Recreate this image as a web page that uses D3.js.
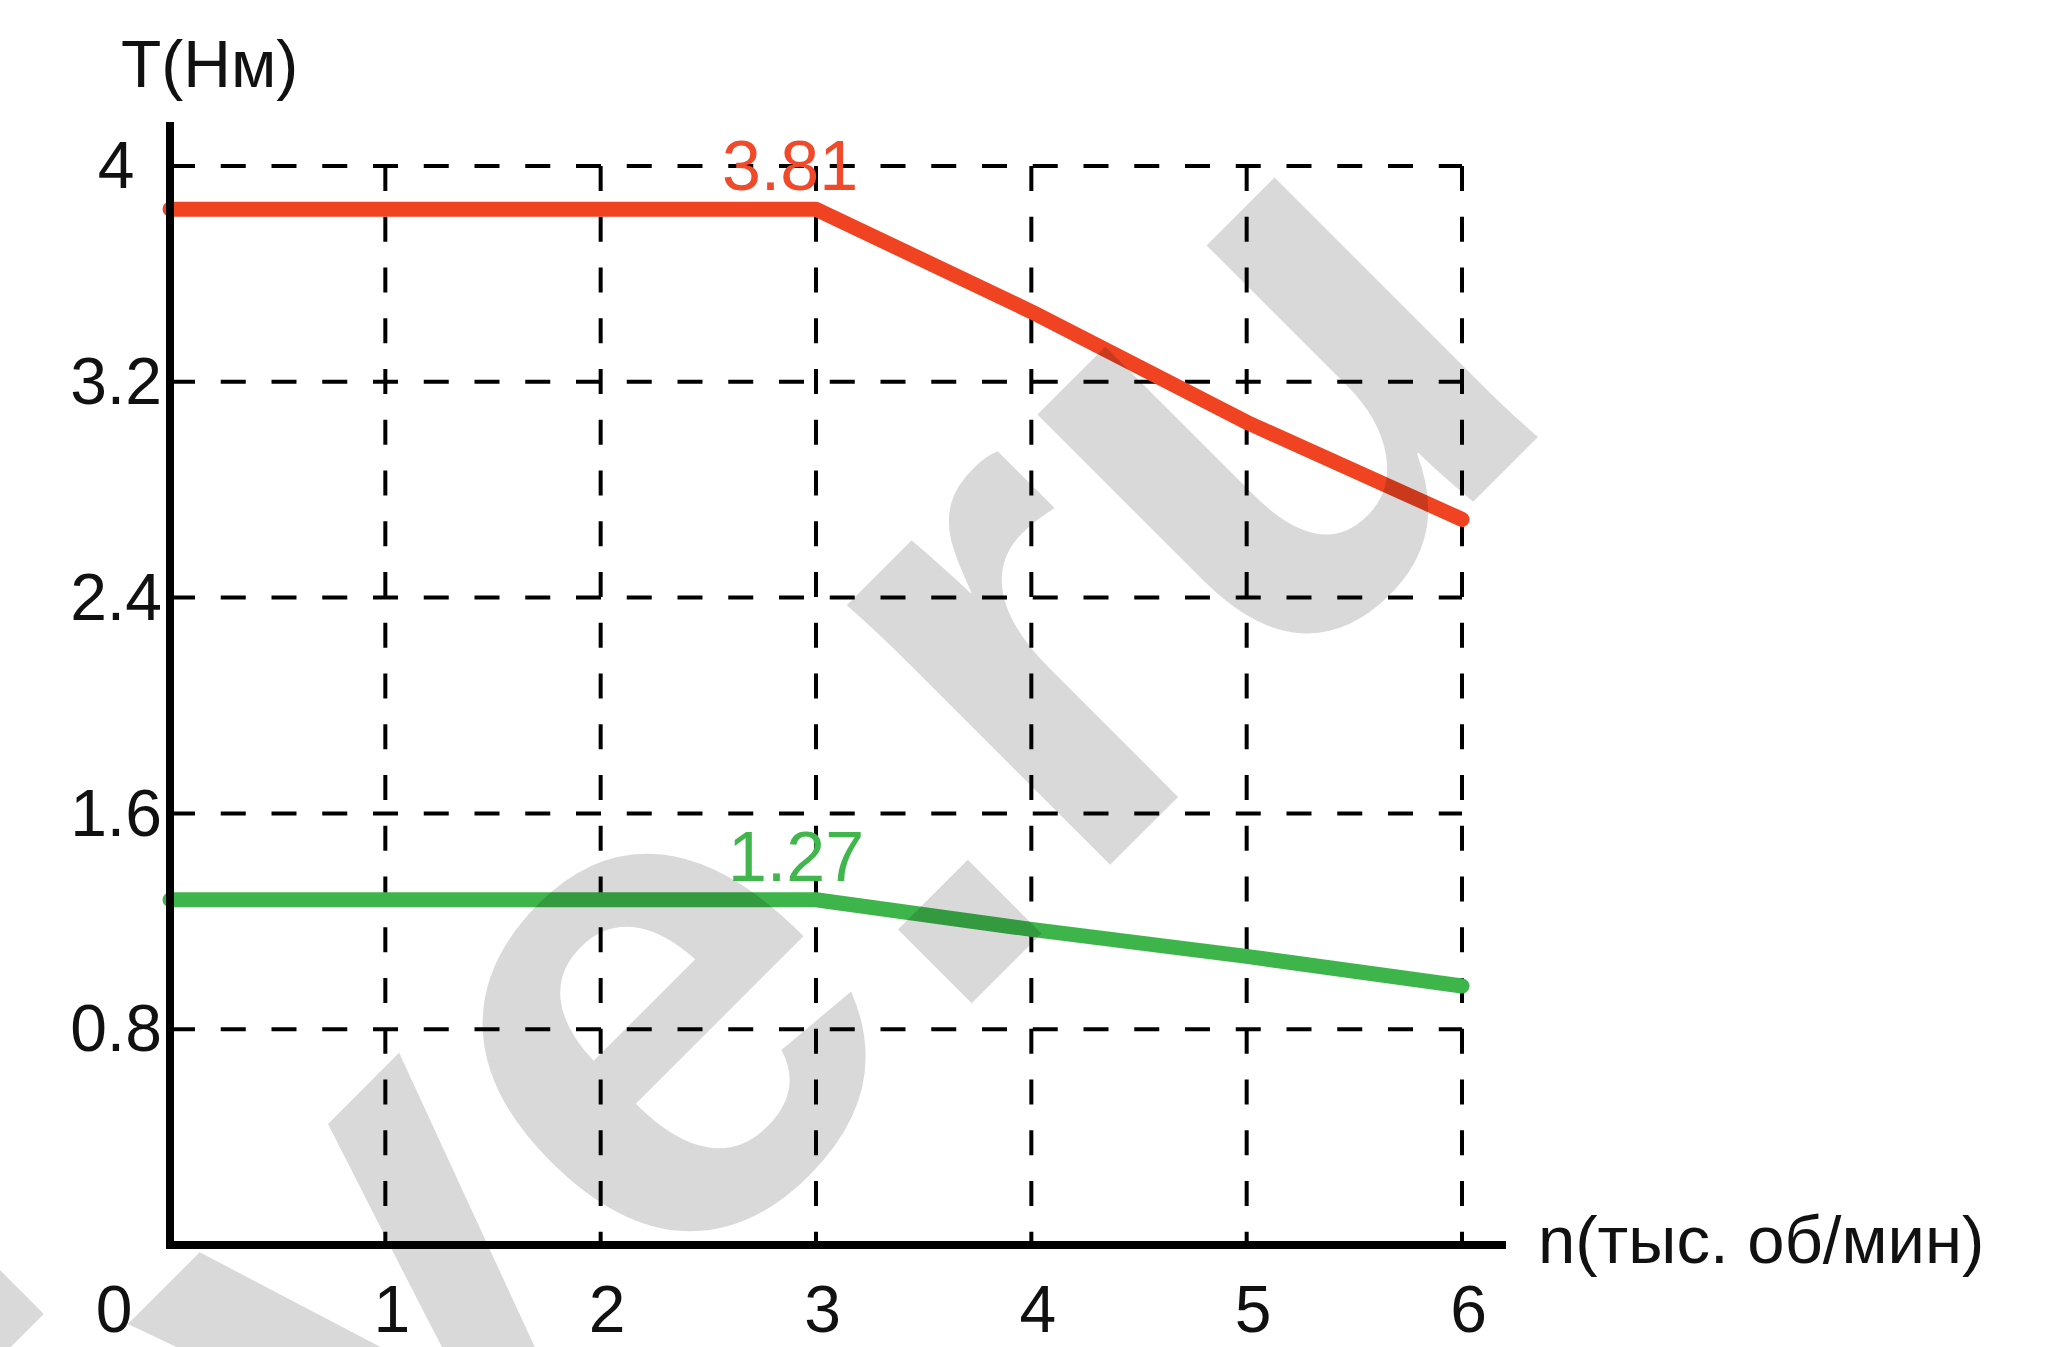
<!DOCTYPE html>
<html>
<head>
<meta charset="utf-8">
<script src="https://cdn.jsdelivr.net/npm/d3@7"></script>
<style>
  html, body { margin: 0; padding: 0; background: #fff; }
  svg { display: block; }
  text { font-family: "Liberation Sans", Arial, sans-serif; }
</style>
</head>
<body>
<script>
// ---- data ----
const nValues = [0, 1, 2, 3, 4, 5, 6];
const torqueRed = [3.84, 3.84, 3.84, 3.84, 3.46, 3.05, 2.69];
const torqueGreen = [1.28, 1.28, 1.28, 1.28, 1.17, 1.07, 0.96];
const yTicks = [0.8, 1.6, 2.4, 3.2, 4];
const yTickLabels = ["0.8", "1.6", "2.4", "3.2", "4"];
const xTicks = [1, 2, 3, 4, 5, 6];
const xTickLabels = ["1", "2", "3", "4", "5", "6"];
const originLabel = "0";
const peakLabels = ["3.81", "1.27"];
const yTitle = "T(Нм)";
const xTitle = "n(тыс. об/мин)";
const watermarkText = "ive.ru";

const W = 2051, H = 1347;
const svg = d3.select("body").append("svg").attr("width", W).attr("height", H);
svg.append("rect").attr("width", W).attr("height", H).attr("fill", "#fff");

const x = d3.scaleLinear().domain([0, 6]).range([170, 1462]);
const y = d3.scaleLinear().domain([0, 4]).range([1245, 166]);

// grid
const grid = svg.append("g").attr("stroke", "#000").attr("stroke-width", 4)
  .attr("stroke-dasharray", "25,25.75").attr("fill", "none");
grid.selectAll("line.h").data(yTicks).join("line").attr("class", "h")
  .attr("x1", x(0)).attr("x2", x(6)).attr("y1", d => y(d)).attr("y2", d => y(d));
grid.selectAll("line.v").data(xTicks).join("line").attr("class", "v")
  .attr("x1", d => x(d)).attr("x2", d => x(d)).attr("y1", y(4)).attr("y2", y(0));

// lines
const line = d3.line().x((d, i) => x(nValues[i])).y(d => y(d));
svg.append("path").datum(torqueRed).attr("d", line).attr("fill", "none")
  .attr("stroke", "#ef4322").attr("stroke-width", 15).attr("stroke-linejoin", "round").attr("stroke-linecap", "round");
svg.append("path").datum(torqueGreen).attr("d", line).attr("fill", "none")
  .attr("stroke", "#3db54a").attr("stroke-width", 15).attr("stroke-linejoin", "round").attr("stroke-linecap", "round");

// peak labels
svg.append("text").attr("x", x(3) - 26).attr("y", y(torqueRed[3]) - 19)
  .attr("text-anchor", "middle").attr("font-size", 70).attr("fill", "#f04a2a").text(peakLabels[0]);
svg.append("text").attr("x", x(3) - 20).attr("y", y(torqueGreen[3]) - 19)
  .attr("text-anchor", "middle").attr("font-size", 70).attr("fill", "#41b64c").text(peakLabels[1]);

// axes lines
svg.append("line").attr("x1", x(0)).attr("x2", x(0)).attr("y1", 122).attr("y2", y(0) + 4)
  .attr("stroke", "#000").attr("stroke-width", 8);
svg.append("line").attr("x1", x(0) - 4).attr("x2", 1506).attr("y1", y(0)).attr("y2", y(0))
  .attr("stroke", "#000").attr("stroke-width", 8);

// y tick labels
const yAxis = d3.axisLeft(y).tickValues(yTicks).tickSize(0).tickPadding(0)
  .tickFormat((d, i) => yTickLabels[i]);
const gy = svg.append("g").attr("transform", "translate(116,0)").call(yAxis);
gy.select(".domain").remove();
gy.selectAll("text").attr("text-anchor", "middle").attr("x", 0).attr("dy", "0.33em")
  .attr("font-size", 66).attr("fill", "#111").style("font-family", "Liberation Sans, Arial, sans-serif");

// x tick labels
const xAxis = d3.axisBottom(x).tickValues(xTicks).tickSize(0).tickPadding(0)
  .tickFormat((d, i) => xTickLabels[i]);
const gx = svg.append("g").attr("transform", "translate(6,1332)").call(xAxis);
gx.select(".domain").remove();
gx.selectAll("text").attr("y", 0).attr("dy", 0).attr("text-anchor", "middle")
  .attr("font-size", 66).attr("fill", "#111").style("font-family", "Liberation Sans, Arial, sans-serif");
svg.append("text").attr("x", 114).attr("y", 1332).attr("text-anchor", "middle")
  .attr("font-size", 66).attr("fill", "#111").text(originLabel);

// axis titles
svg.append("text").attr("x", 121).attr("y", 87).attr("font-size", 66).attr("fill", "#111").text(yTitle);
svg.append("text").attr("x", 1538).attr("y", 1263).attr("font-size", 67).attr("fill", "#111").text(xTitle);

// watermark
svg.append("text").attr("transform", "translate(250,1725) rotate(-45)")
  .attr("font-size", 700).attr("font-weight", "bold").attr("fill", "#d9d9d9")
  .style("mix-blend-mode", "multiply").text(watermarkText);
</script>
</body>
</html>
